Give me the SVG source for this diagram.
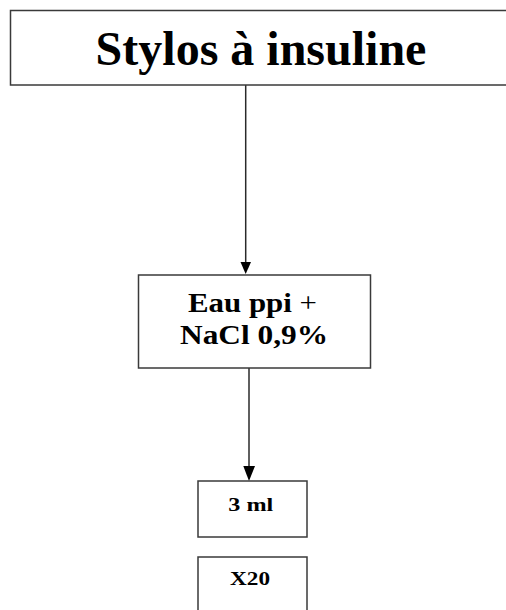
<svg xmlns="http://www.w3.org/2000/svg" width="506" height="610" viewBox="0 0 506 610">
  <style>
    .box { fill: #ffffff; stroke: #3a3a3a; stroke-width: 1.5; }
    .link { stroke: #2a2a2a; stroke-width: 1.5; fill: none; }
    .head { fill: #000000; }
    text { font-family: "Liberation Serif", "Times New Roman", serif; fill: #000000; text-anchor: middle; }
    .bold { font-weight: bold; }
  </style>
  <rect x="0" y="0" width="506" height="610" fill="#ffffff"/>

  <g id="connectors">
    <line class="link" x1="245.7" y1="85" x2="245.7" y2="264"/>
    <polygon class="head" points="240.5,262 251,262 245.7,274"/>
    <line class="link" x1="249" y1="368" x2="249" y2="468"/>
    <polygon class="head" points="243.3,466 255,466 249,481"/>
  </g>

  <g id="node-stylos">
    <rect class="box" x="10.5" y="10.5" width="500" height="74.5"/>
    <text class="bold" x="261" y="65" font-size="48">Stylos à insuline</text>
  </g>

  <g id="node-eau">
    <rect class="box" x="138.5" y="275" width="232" height="93"/>
    <text x="252.5" y="312" font-size="28" textLength="129" lengthAdjust="spacingAndGlyphs"><tspan class="bold">Eau ppi</tspan> +</text>
    <text class="bold" x="254" y="344" font-size="28" textLength="148" lengthAdjust="spacingAndGlyphs">NaCl 0,9%</text>
  </g>

  <g id="node-3ml">
    <rect class="box" x="198" y="481" width="109" height="56"/>
    <text class="bold" x="250.8" y="511" font-size="19" textLength="45" lengthAdjust="spacingAndGlyphs">3 ml</text>
  </g>

  <g id="node-x20">
    <rect class="box" x="198" y="557" width="109" height="60"/>
    <text class="bold" x="250" y="585" font-size="19" textLength="40" lengthAdjust="spacingAndGlyphs">X20</text>
  </g>
</svg>
